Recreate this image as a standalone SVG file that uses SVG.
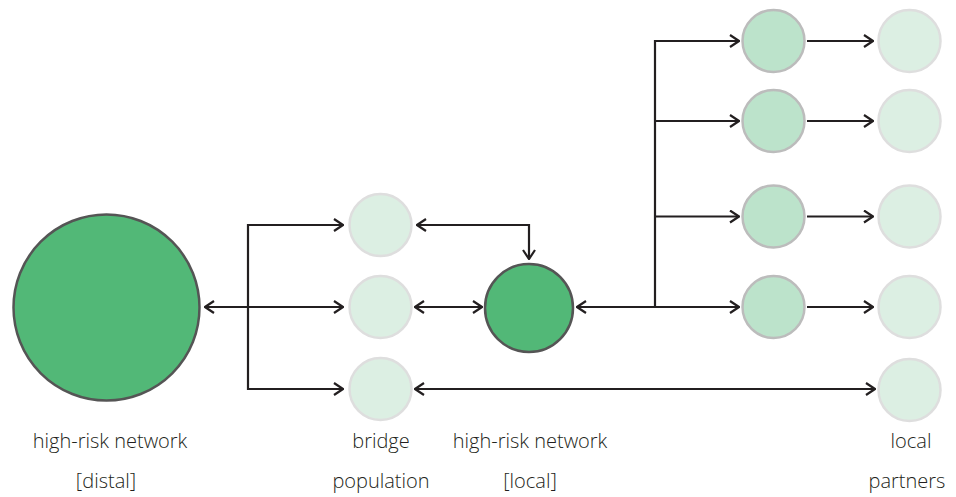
<svg xmlns="http://www.w3.org/2000/svg" width="956" height="497" viewBox="0 0 956 497">
<style>
.bg{fill:#ffffff}
.dark{fill:#52b877;stroke:#555555;stroke-width:2.5}
.mid{fill:#bce3cb;stroke:#bcbcbc;stroke-width:2.5}
.light{fill:#dcefe3;stroke:#dedede;stroke-width:2.5}
.c{fill:none;stroke:#231f20;stroke-width:2.2}
.lbl{font-family:"Open Sans","Noto Sans",sans-serif;font-weight:300;font-size:20px;fill:#231f20;text-anchor:middle}
</style>
<defs>
<marker id="ah" viewBox="0 0 12 14" refX="11" refY="7" markerWidth="12" markerHeight="14" markerUnits="userSpaceOnUse" orient="auto-start-reverse">
<path d="M2,1 L11,7 L2,13" fill="none" stroke="#231f20" stroke-width="2.2"/>
</marker>
</defs>
<rect class="bg" width="956" height="497"/>
<g id="connectors">
<path class="c" d="M248,307 H205" marker-end="url(#ah)"/>
<path class="c" d="M343,225 H248 V389 H343" marker-start="url(#ah)" marker-end="url(#ah)"/>
<path class="c" d="M248,307 H343" marker-end="url(#ah)"/>
<path class="c" d="M417,225 H529 V259" marker-start="url(#ah)" marker-end="url(#ah)"/>
<path class="c" d="M415,307 H482" marker-start="url(#ah)" marker-end="url(#ah)"/>
<path class="c" d="M415,389 H875" marker-start="url(#ah)" marker-end="url(#ah)"/>
<path class="c" d="M577,307 H739" marker-start="url(#ah)" marker-end="url(#ah)"/>
<path class="c" d="M739,41 H655 V307" marker-start="url(#ah)"/>
<path class="c" d="M655,121 H739" marker-end="url(#ah)"/>
<path class="c" d="M655,216.5 H739" marker-end="url(#ah)"/>
<path class="c" d="M807,41 H873" marker-end="url(#ah)"/>
<path class="c" d="M807,121 H873" marker-end="url(#ah)"/>
<path class="c" d="M807,216.5 H873" marker-end="url(#ah)"/>
<path class="c" d="M807,307 H873" marker-end="url(#ah)"/>
</g>
<g id="distal"><circle class="dark" cx="106.5" cy="307.5" r="93"/></g>
<g id="bridge1"><circle class="light" cx="380.5" cy="225" r="31"/></g>
<g id="bridge2"><circle class="light" cx="380.5" cy="307" r="31"/></g>
<g id="bridge3"><circle class="light" cx="380.5" cy="389" r="31"/></g>
<g id="local"><circle class="dark" cx="529" cy="308" r="44"/></g>
<g id="m1"><circle class="mid" cx="773.5" cy="41" r="31"/></g>
<g id="m2"><circle class="mid" cx="773.5" cy="121" r="31"/></g>
<g id="m3"><circle class="mid" cx="773.5" cy="216.5" r="31"/></g>
<g id="m4"><circle class="mid" cx="773.5" cy="307" r="31"/></g>
<g id="p1"><circle class="light" cx="909.5" cy="41" r="31"/></g>
<g id="p2"><circle class="light" cx="909.5" cy="121" r="31"/></g>
<g id="p3"><circle class="light" cx="909.5" cy="216.5" r="31"/></g>
<g id="p4"><circle class="light" cx="909.5" cy="307" r="31"/></g>
<g id="p5"><circle class="light" cx="909.5" cy="390" r="31"/></g>
<g id="labels">
<text class="lbl" x="110" y="448">high-risk network</text>
<text class="lbl" x="106" y="488">[distal]</text>
<text class="lbl" x="381" y="448">bridge</text>
<text class="lbl" x="381" y="488">population</text>
<text class="lbl" x="530" y="448">high-risk network</text>
<text class="lbl" x="530" y="488">[local]</text>
<text class="lbl" x="911" y="448">local</text>
<text class="lbl" x="907" y="488">partners</text>
</g>
</svg>
